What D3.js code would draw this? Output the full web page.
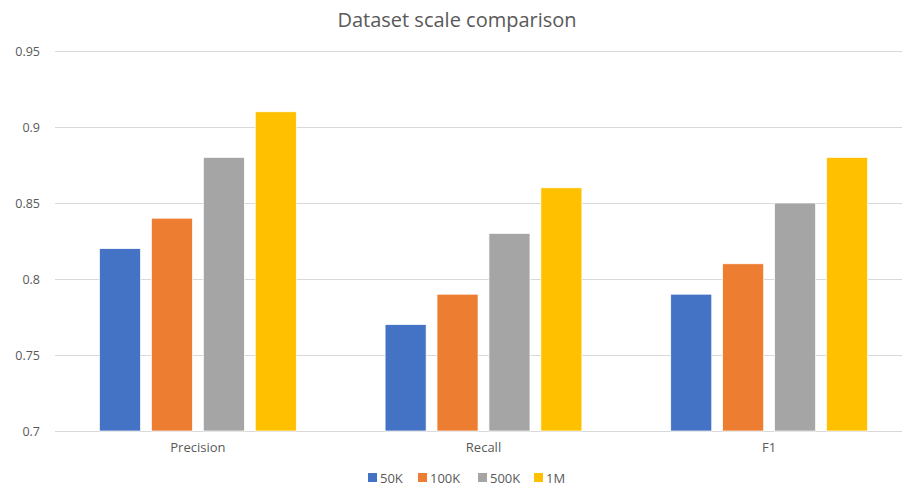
<!DOCTYPE html>
<html lang="en">
<head>
<meta charset="utf-8">
<title>Dataset scale comparison</title>
<script src="https://cdnjs.cloudflare.com/ajax/libs/d3/7.8.5/d3.min.js"></script>
<style>
  body { margin: 0; background: #fff; }
  text { font-family: "Open Sans", "Noto Sans", sans-serif; fill: #595959; }
  .grid line { stroke: #d9d9d9; stroke-width: 1px; }
</style>
</head>
<body>
<script>
// data
var categories = ["Precision", "Recall", "F1"];
var seriesNames = ["50K", "100K", "500K", "1M"];
var values50K  = [0.82, 0.77, 0.79];
var values100K = [0.84, 0.79, 0.81];
var values500K = [0.88, 0.83, 0.85];
var values1M   = [0.91, 0.86, 0.88];
var yTicks = [0.7, 0.75, 0.8, 0.85, 0.9, 0.95];
var colors = ["#4472C4", "#ED7D31", "#A5A5A5", "#FFC000"];

var series = [values50K, values100K, values500K, values1M];
var width = 902, height = 486;

var svg = d3.select("body").append("svg")
    .attr("width", width)
    .attr("height", height);

// scales
var x0 = d3.scaleBand()
    .domain(categories)
    .range([55, 912])
    .paddingInner(0.311)
    .paddingOuter(0.1557);

var x1 = d3.scaleBand()
    .domain(seriesNames)
    .range([0, x0.bandwidth()])
    .paddingInner(0.21)
    .paddingOuter(0);

var y = d3.scaleLinear()
    .domain([0.7, 0.95])
    .range([431, 51]);

var color = d3.scaleOrdinal().domain(seriesNames).range(colors);

// title
svg.append("text")
    .attr("x", 457)
    .attr("y", 27)
    .attr("text-anchor", "middle")
    .style("font-size", "20px")
    .text("Dataset scale comparison");

// gridlines
svg.append("g")
    .attr("class", "grid")
    .attr("transform", "translate(55,0)")
    .call(d3.axisLeft(y).tickValues(yTicks).tickSize(-(width - 55)).tickFormat(""))
    .call(function(g) { g.select(".domain").remove(); });

// y labels
svg.append("g")
    .attr("transform", "translate(40,0)")
    .call(d3.axisLeft(y).tickValues(yTicks).tickSize(0).tickFormat(d3.format("")))
    .call(function(g) {
      g.select(".domain").remove();
      g.selectAll("text").attr("x", 0).style("font-size", "12.5px");
    });

// bars
var groups = svg.append("g").selectAll("g")
    .data(categories)
    .join("g")
    .attr("transform", function(d) { return "translate(" + x0(d) + ",0)"; });

groups.selectAll("rect")
    .data(function(d, i) {
      return seriesNames.map(function(s, j) { return {key: s, value: series[j][i]}; });
    })
    .join("rect")
    .attr("x", function(d) { return x1(d.key); })
    .attr("y", function(d) { return y(d.value); })
    .attr("width", x1.bandwidth())
    .attr("height", function(d) { return y(0.7) - y(d.value); })
    .attr("fill", function(d) { return color(d.key); })
    .attr("stroke", "#fff")
    .attr("stroke-width", 0.7);

// x labels
svg.append("g")
    .attr("transform", "translate(0,431)")
    .call(d3.axisBottom(x0).tickSize(0).tickPadding(12))
    .call(function(g) {
      g.select(".domain").remove();
      g.selectAll("text").style("font-size", "13px");
    });

// legend
var legendX = [368, 418, 478, 534];
var legend = svg.append("g").selectAll("g")
    .data(seriesNames)
    .join("g")
    .attr("transform", function(d, i) { return "translate(" + legendX[i] + ",473)"; });

legend.append("rect")
    .attr("width", 9)
    .attr("height", 9)
    .attr("fill", function(d) { return color(d); });

legend.append("text")
    .attr("x", 12)
    .attr("y", 9.5)
    .style("font-size", "13px")
    .text(function(d) { return d; });
</script>
</body>
</html>
